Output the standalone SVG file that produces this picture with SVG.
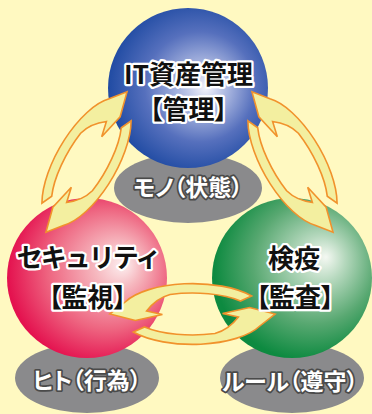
<svg xmlns="http://www.w3.org/2000/svg" xmlns:xlink="http://www.w3.org/1999/xlink" width="372" height="414" viewBox="0 0 372 414">
<style>
.shadow{fill:#8a8a8c}
.lbl{font-family:"Noto Sans CJK JP","Noto Sans",sans-serif;font-weight:700;font-size:26px;text-anchor:middle;fill:#111;stroke:#fff;stroke-width:4.5;stroke-linejoin:round;paint-order:stroke;font-feature-settings:"palt"}
.kana{font-feature-settings:normal;letter-spacing:-2px}
.sub{font-family:"Noto Sans CJK JP","Noto Sans",sans-serif;font-weight:700;font-size:23px;text-anchor:middle;fill:#fff;stroke:#4a4a4a;stroke-width:3.5;stroke-linejoin:round;paint-order:stroke;font-feature-settings:"palt"}
</style>
<defs>
<radialGradient id="gBlue" gradientUnits="userSpaceOnUse" cx="196" cy="86" r="92" fx="206" fy="88">
<stop offset="0" stop-color="#f4f4fb"/>
<stop offset="0.2" stop-color="#b9c3e6"/>
<stop offset="0.6" stop-color="#5670bd"/>
<stop offset="1" stop-color="#1a47a0"/>
</radialGradient>
<radialGradient id="gRed" gradientUnits="userSpaceOnUse" cx="100" cy="272" r="92" fx="124" fy="264">
<stop offset="0" stop-color="#fdf1f1"/>
<stop offset="0.25" stop-color="#f6b8bf"/>
<stop offset="0.65" stop-color="#ee6681"/>
<stop offset="1" stop-color="#e4124f"/>
</radialGradient>
<radialGradient id="gGreen" gradientUnits="userSpaceOnUse" cx="308" cy="266" r="94" fx="326" fy="257">
<stop offset="0" stop-color="#f4f8f2"/>
<stop offset="0.25" stop-color="#b5d8bd"/>
<stop offset="0.65" stop-color="#58a871"/>
<stop offset="1" stop-color="#0d8a40"/>
</radialGradient>
<path id="arr" d="M-58,-18 A72,30.5 0 0 1 66,-12 L81,0 L56,6.5 L29.5,0.5 L45,-3 C39,-11 31,-17 22,-19.5 A60,21 0 0 0 -47,-13 Z" fill="#f3efa0" stroke="#f1922c" stroke-width="1.6" stroke-linejoin="miter"/>
<g id="pair"><use xlink:href="#arr"/><use xlink:href="#arr" transform="rotate(180)"/></g>
</defs>
<rect width="372" height="414" fill="#fff9c1"/>
<g id="shadows">
<ellipse class="shadow" cx="188" cy="188" rx="74" ry="35"/>
<ellipse class="shadow" cx="87" cy="378" rx="72" ry="35"/>
<ellipse class="shadow" cx="292" cy="378" rx="72" ry="35"/>
</g>
<g id="node-it">
<circle cx="188" cy="88" r="80" fill="url(#gBlue)"/>
</g>
<g id="node-security">
<circle cx="87" cy="278" r="80" fill="url(#gRed)"/>
</g>
<g id="node-quarantine">
<circle cx="292" cy="278" r="80" fill="url(#gGreen)"/>
</g>
<g id="connectors">
<use xlink:href="#pair" transform="translate(86.5,162) rotate(-60)"/>
<use xlink:href="#pair" transform="translate(292.5,162) scale(-1,1) rotate(-60)"/>
<use xlink:href="#pair" transform="translate(192.5,314) scale(-1.02,1)"/>
</g>
<g id="labels">
<text class="lbl" x="188.5" y="84">IT資産管理</text>
<text class="lbl" x="188.5" y="119">【管理】</text>
<text class="lbl kana" x="88" y="267">セキュリティ</text>
<text class="lbl" x="87.5" y="307">【監視】</text>
<text class="lbl" x="294" y="268">検疫</text>
<text class="lbl" x="295" y="307">【監査】</text>
<text class="sub" x="188" y="196">モノ（状態）</text>
<text class="sub" x="87" y="389">ヒト（行為）</text>
<text class="sub" x="290" y="390">ルール（遵守）</text>
</g>
</svg>
